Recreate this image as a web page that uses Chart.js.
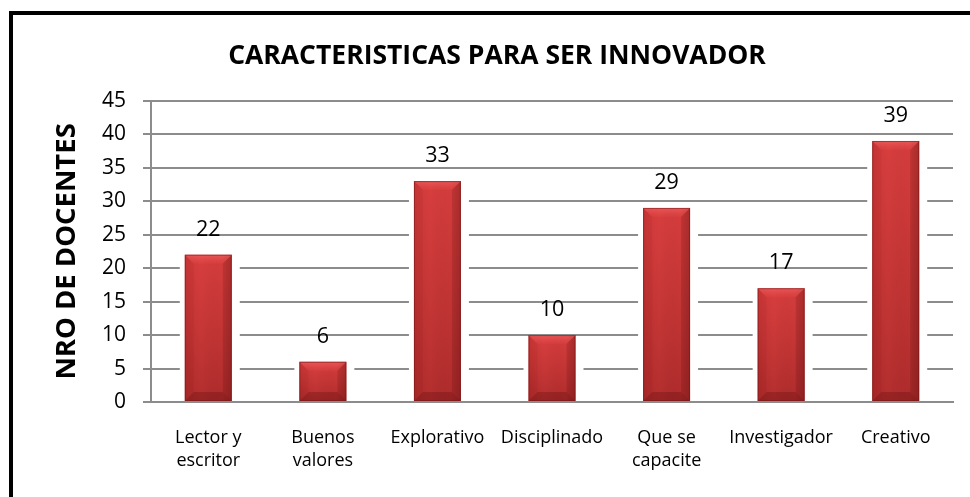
<!DOCTYPE html>
<html>
<head>
<meta charset="utf-8">
<script src="https://cdn.jsdelivr.net/npm/chart.js@4.4.1/dist/chart.umd.min.js"></script>
<style>
  html, body { margin:0; padding:0; background:#fff; width:970px; height:497px; overflow:hidden; }
  #wrap { position:absolute; left:0; top:0; width:970px; height:497px; }
  #frame { position:absolute; left:9px; top:11px; width:2000px; height:2000px; border:4px solid #000; pointer-events:none; }
</style>
</head>
<body>
<div id="wrap"><canvas id="c" width="970" height="497"></canvas></div>
<div id="frame"></div>
<script>
const categories = [["Lector y","escritor"],["Buenos","valores"],"Explorativo","Disciplinado",["Que se","capacite"],"Investigador","Creativo"];
const values = [22, 6, 33, 10, 29, 17, 39];
const yTicks = [0, 5, 10, 15, 20, 25, 30, 35, 40, 45];
const chartTitle = "CARACTERISTICAS PARA SER INNOVADOR";
const yTitle = "NRO DE DOCENTES";

const FONT = "'Open Sans', 'Liberation Sans', sans-serif";

const haloPlugin = {
  id: 'halo',
  beforeDatasetsDraw(chart) {
    const ctx = chart.ctx;
    const meta = chart.getDatasetMeta(0);
    ctx.save();
    ctx.fillStyle = '#ffffff';
    meta.data.forEach(bar => {
      const p = bar.getProps(['x','y','width','base'], true);
      const l = p.x - p.width/2, r = p.x + p.width/2;
      ctx.fillRect(l - 5, p.y + 4, (r - l) + 13, p.base - p.y - 5);
    });
    ctx.restore();
  }
};

const bevelPlugin = {
  id: 'bevel',
  afterDatasetsDraw(chart) {
    const ctx = chart.ctx;
    const meta = chart.getDatasetMeta(0);
    ctx.save();
    meta.data.forEach((bar, i) => {
      const p = bar.getProps(['x','y','width','base'], true);
      const l = p.x - p.width/2, r = p.x + p.width/2, t = p.y, b = p.base;
      const h = b - t;
      const bv = Math.min(9, h/2);
      let g = ctx.createLinearGradient(0, t, 0, b);
      g.addColorStop(0, 'rgba(255,80,80,0.18)');
      g.addColorStop(1, 'rgba(70,0,0,0.22)');
      ctx.fillStyle = g;
      ctx.fillRect(l, t, r - l, h);
      g = ctx.createLinearGradient(l, 0, r, 0);
      g.addColorStop(0, 'rgba(80,0,0,0.08)');
      g.addColorStop(0.35, 'rgba(255,90,90,0.06)');
      g.addColorStop(0.8, 'rgba(0,0,0,0.0)');
      g.addColorStop(1, 'rgba(60,0,0,0.16)');
      ctx.fillStyle = g;
      ctx.fillRect(l, t, r - l, h);
      g = ctx.createLinearGradient(0, t, 0, t + bv);
      g.addColorStop(0, 'rgba(255,120,120,0.45)');
      g.addColorStop(1, 'rgba(255,90,90,0.08)');
      ctx.fillStyle = g;
      ctx.beginPath();
      ctx.moveTo(l, t); ctx.lineTo(r, t); ctx.lineTo(r - bv, t + bv); ctx.lineTo(l + bv, t + bv); ctx.closePath();
      ctx.fill();
      ctx.fillStyle = 'rgba(90,0,0,0.05)';
      ctx.beginPath();
      ctx.moveTo(l, t); ctx.lineTo(l + bv, t + bv); ctx.lineTo(l + bv, b - bv); ctx.lineTo(l, b); ctx.closePath();
      ctx.fill();
      ctx.fillStyle = 'rgba(60,0,0,0.12)';
      ctx.beginPath();
      ctx.moveTo(r, t); ctx.lineTo(r - bv, t + bv); ctx.lineTo(r - bv, b - bv); ctx.lineTo(r, b); ctx.closePath();
      ctx.fill();
      ctx.fillStyle = 'rgba(60,0,0,0.22)';
      ctx.beginPath();
      ctx.moveTo(l, b); ctx.lineTo(l + bv, b - bv); ctx.lineTo(r - bv, b - bv); ctx.lineTo(r, b); ctx.closePath();
      ctx.fill();
      ctx.strokeStyle = 'rgba(120,20,20,0.55)';
      ctx.lineWidth = 1;
      ctx.strokeRect(l + 0.5, t + 0.5, r - l - 1, h - 1);
    });
    ctx.restore();
  }
};

const labelPlugin = {
  id: 'valueLabels',
  afterDatasetsDraw(chart) {
    const ctx = chart.ctx;
    const meta = chart.getDatasetMeta(0);
    ctx.save();
    ctx.font = "21.5px " + FONT;
    ctx.fillStyle = '#000';
    ctx.textAlign = 'center';
    ctx.textBaseline = 'middle';
    meta.data.forEach((bar, i) => {
      ctx.fillText(String(values[i]), bar.x, bar.y - 25);
    });
    ctx.restore();
  }
};

new Chart(document.getElementById('c'), {
  type: 'bar',
  data: {
    labels: categories,
    datasets: [{
      data: values,
      backgroundColor: '#cc3838',
      borderWidth: 0,
      categoryPercentage: 1.0,
      barPercentage: 0.41
    }]
  },
  options: {
    responsive: false,
    animation: false,
    devicePixelRatio: 1,
    layout: { padding: { left: 41, right: 17, top: 0, bottom: 0 } },
    plugins: {
      legend: { display: false },
      tooltip: { enabled: false },
      title: {
        display: true,
        text: chartTitle,
        color: '#000',
        font: { family: FONT, size: 26.5, weight: 'bold', lineHeight: 1.2 },
        padding: { top: 41, bottom: 28 }
      }
    },
    scales: {
      x: {
        grid: { display: false, drawTicks: false },
        border: { display: true, color: '#8c8c8c', width: 2 },
        ticks: {
          color: '#000',
          font: { family: FONT, size: 18, lineHeight: '23px' },
          padding: 24,
          maxRotation: 0,
          autoSkip: false
        },
        afterFit(scale) { scale.height = 95; }
      },
      y: {
        min: 0,
        max: 45,
        afterBuildTicks(scale) { scale.ticks = yTicks.map(v => ({ value: v })); },
        grid: { color: '#8c8c8c', lineWidth: 2, tickLength: 8, drawTicks: true },
        border: { display: true, color: '#8c8c8c', width: 2 },
        ticks: {
          color: '#000',
          font: { family: FONT, size: 21 },
          padding: 17
        },
        title: {
          display: true,
          text: yTitle,
          color: '#000',
          font: { family: FONT, size: 27.5, weight: 'bold', lineHeight: 1.2 },
          padding: { top: 10, bottom: 0 }
        },
        afterFit(scale) { scale.width = 110; }
      }
    }
  },
  plugins: [haloPlugin, bevelPlugin, labelPlugin]
});
</script>
</body>
</html>
